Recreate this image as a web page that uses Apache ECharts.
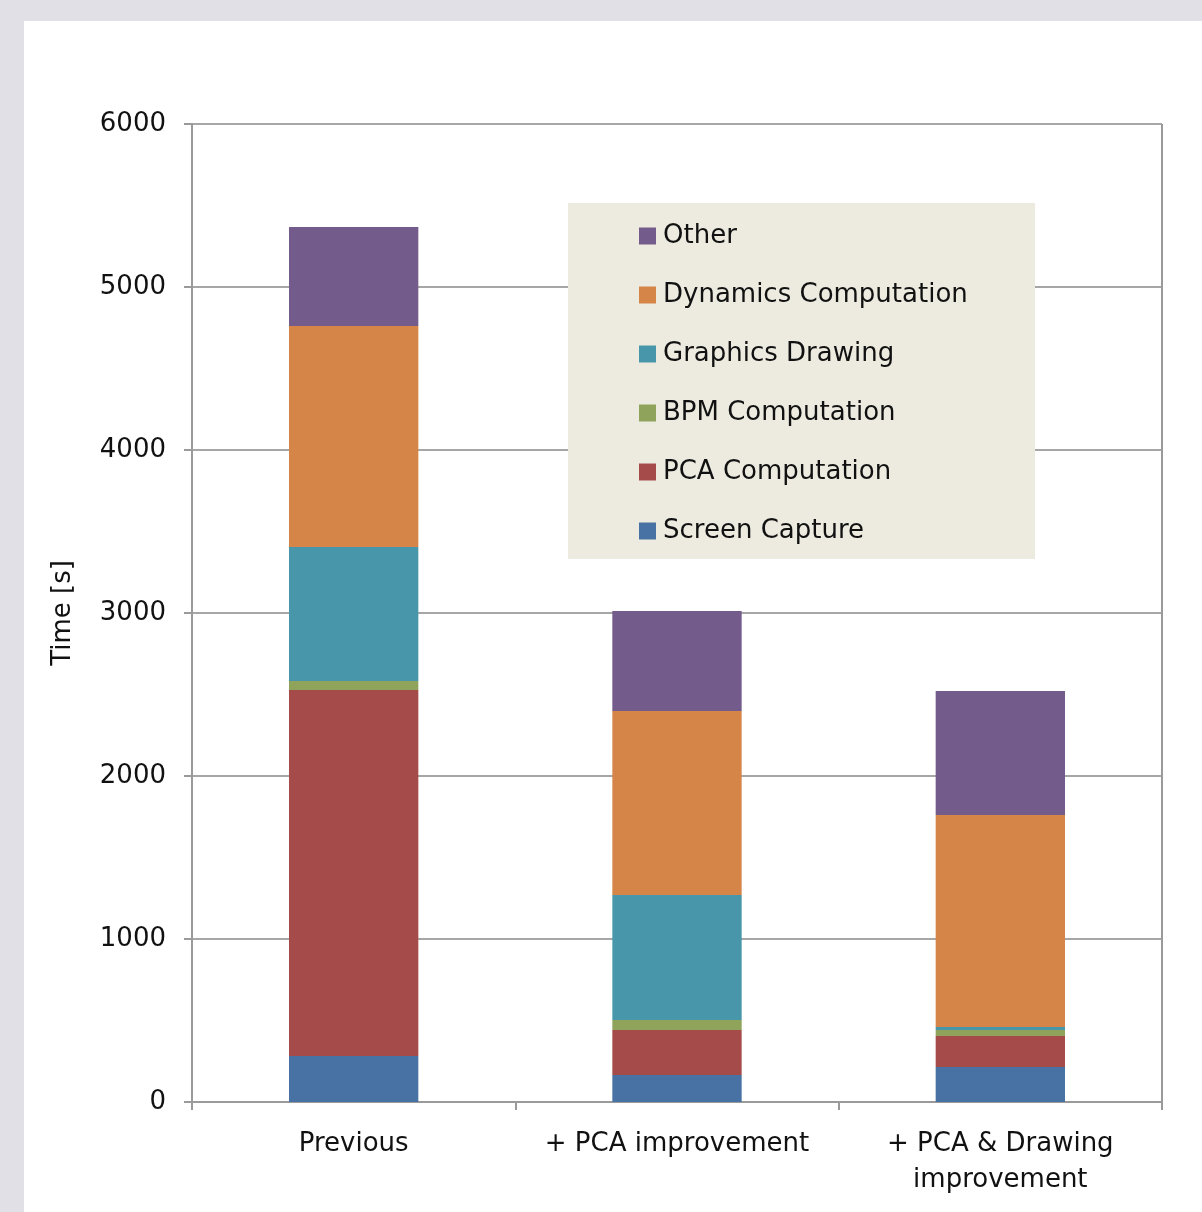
<!DOCTYPE html>
<html lang="en">
<head>
    <meta charset="UTF-8">
    <title>Time breakdown</title>
    <script src="https://cdn.jsdelivr.net/npm/echarts@6/dist/echarts.min.js"></script>
    <style>
        body { margin: 0; background: #e1e0e6; }
        #main { position: absolute; left: 24px; top: 21px; width: 1178px; height: 1191px; background: #fff; }
    </style>
</head>
<body>
<div id="main"></div>

<script type="text/javascript">
    // categories and stacked values (seconds)
    var categories = ['Previous', '+ PCA improvement', '+ PCA & Drawing\nimprovement'];
    var screenCapture = [282, 166, 215];
    var pcaComputation = [2246, 276, 190];
    var bpmComputation = [55, 61, 37];
    var graphicsDrawing = [822, 767, 18];
    var dynamicsComputation = [1356, 1129, 1301];
    var other = [607, 613, 760];
    var yTicks = [0, 1000, 2000, 3000, 4000, 5000, 6000];

    var font = 'DejaVu Sans';
    var myChart = echarts.init(document.getElementById('main'));

    function bar(name, data, color) {
        return {
            name: name,
            type: 'bar',
            stack: 'total',
            barWidth: '40%',
            data: data,
            itemStyle: { color: color },
            emphasis: { disabled: true }
        };
    }

    var option = {
        animation: false,
        textStyle: { fontFamily: font },
        grid: { left: 168, top: 103, right: 40, bottom: 110 },
        graphic: [{
            type: 'rect',
            left: 544, top: 182,
            shape: { width: 467, height: 356 },
            style: { fill: '#edebe0' },
            z: 10
        }],
        legend: {
            orient: 'vertical',
            left: 610, top: 195,
            z: 20,
            itemWidth: 17, itemHeight: 17,
            itemGap: 29,
            icon: 'rect',
            textStyle: { fontFamily: font, fontSize: 26, color: '#111', lineHeight: 30, padding: [0, 0, 0, 2] },
            data: ['Other', 'Dynamics Computation', 'Graphics Drawing', 'BPM Computation', 'PCA Computation', 'Screen Capture']
        },
        xAxis: {
            type: 'category',
            data: categories,
            axisLine: { lineStyle: { color: '#9a9a9a', width: 2 } },
            axisTick: { show: true, interval: 0, length: 8, lineStyle: { color: '#9a9a9a', width: 2 } },
            axisLabel: { interval: 0, fontSize: 26, color: '#111', margin: 24, lineHeight: 36, fontFamily: font }
        },
        yAxis: {
            type: 'value',
            min: yTicks[0], max: yTicks[yTicks.length - 1], interval: 1000,
            name: 'Time [s]',
            nameLocation: 'middle',
            nameGap: 116,
            nameTextStyle: { fontSize: 26, color: '#111', fontFamily: font },
            axisLine: { show: true, lineStyle: { color: '#9a9a9a', width: 2 } },
            axisTick: { show: true, length: 8, lineStyle: { color: '#9a9a9a', width: 2 } },
            axisLabel: { fontSize: 26, color: '#111', margin: 26, fontFamily: font, formatter: function (v) { return String(v); } },
            splitLine: { lineStyle: { color: '#a6a6a6', width: 2 } }
        },
        series: [
            bar('Screen Capture', screenCapture, '#4872a3'),
            bar('PCA Computation', pcaComputation, '#a54c4a'),
            bar('BPM Computation', bpmComputation, '#8fa45a'),
            bar('Graphics Drawing', graphicsDrawing, '#4896aa'),
            bar('Dynamics Computation', dynamicsComputation, '#d58547'),
            bar('Other', other, '#735b8b')
        ]
    };

    myChart.setOption(option);

    // right border of the plot area
    var rect = myChart.getModel().getComponent('grid').coordinateSystem.getRect();
    option.graphic.push({
        type: 'line',
        shape: { x1: rect.x + rect.width, y1: rect.y, x2: rect.x + rect.width, y2: rect.y + rect.height },
        style: { stroke: '#9a9a9a', lineWidth: 2 },
        z: 5
    });
    myChart.setOption({ graphic: option.graphic });
</script>
</body>
</html>
